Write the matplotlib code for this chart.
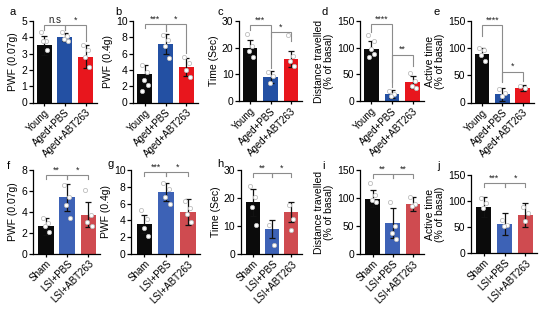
import matplotlib
matplotlib.use("Agg")
import matplotlib.pyplot as plt
import numpy as np

plt.rcParams['font.family'] = ['Liberation Sans', 'DejaVu Sans']

top_groups = ["Young", "Aged+PBS", "Aged+ABT263"]
bottom_groups = ["Sham", "LSI+PBS", "LSI+ABT263"]

# ---- data ----
a_means = [3.5, 4.0, 2.8]
a_sd = [0.6, 0.25, 0.7]
a_points = [[4.3, 3.8, 3.8, 3.2], [4.3, 4.1, 3.9, 3.8], [3.5, 3.2, 2.8, 2.2]]

b_means = [3.5, 7.2, 4.4]
b_sd = [1.1, 1.2, 1.1]
b_points = [[4.6, 3.8, 2.8, 2.1, 1.4], [8.3, 7.7, 6.9, 5.4], [5.6, 4.8, 4.0, 3.1]]

c_means = [19.8, 9.1, 15.8]
c_sd = [2.9, 2.2, 3.1]
c_points = [[25.2, 20.8, 18.9, 16.4], [10.7, 9.5, 6.9], [24.6, 17.0, 15.1, 13.2]]

d_means = [98, 13, 36]
d_sd = [15, 7, 11]
d_points = [[123, 113, 98, 88, 83], [19, 13, 9.5], [52, 38, 28, 25]]

e_means = [89, 15, 27]
e_sd = [11, 12, 6]
e_points = [[100, 96, 88, 76], [24, 18, 12], [31, 27]]

f_means = [2.6, 5.4, 3.7]
f_sd = [0.8, 1.3, 1.2]
f_points = [[3.4, 2.9, 2.6, 2.1], [6.6, 5.4, 4.6, 3.4], [6.1, 3.7, 3.0, 2.6]]

g_means = [3.6, 7.4, 5.0]
g_sd = [1.1, 1.1, 1.5]
g_points = [[5.2, 4.2, 3.1, 2.1], [8.5, 7.7, 6.8, 6.0], [6.3, 5.5, 4.8, 3.8]]

h_means = [18.5, 8.9, 15.0]
h_sd = [4.8, 3.1, 3.5]
h_points = [[24.4, 20.3, 16.8, 10.3], [10.3, 3.2], [17.4, 12.6, 8.7]]

i_means = [99, 55, 89]
i_sd = [15, 27, 13]
i_points = [[126, 105, 96, 93], [93, 50, 37, 26], [102, 90, 85]]

j_means = [89, 56, 73]
j_sd = [19, 21, 23]
j_points = [[105, 96, 86], [64, 54, 51], [89, 77, 61]]

# ---- layout / style ----
W, H = 544, 309
top_colors = ["#0b0b0b", "#2350a3", "#e8161d"]
bot_colors = ["#0b0b0b", "#3d62b6", "#cf4b50"]
jit = [-0.14, 0.11, -0.04, 0.15, -0.1]

def rect(left, top, right, bottom):
    return [left / W, 1 - bottom / H, (right - left) / W, (bottom - top) / H]

panels = [
    dict(L="a", m=a_means, s=a_sd, p=a_points, yl="PWF (0.07g)", ymax=5, step=1,
         g=top_groups, c=top_colors, r=rect(32.7, 21, 97, 102.5), let=(9, 12),
         br=[(0, 1, 4.75, 0.3, 0.3, "n.s"), (1, 2, 4.75, 0.3, 1.0, "*")], xl=-0.55),
    dict(L="b", m=b_means, s=b_sd, p=b_points, yl="PWF (0.4g)", ymax=10, step=2,
         g=top_groups, c=top_colors, r=rect(133, 21, 198, 102.5), let=(115, 12),
         br=[(0, 1, 9.6, 0.5, 0.8, "***"), (1, 2, 9.6, 0.8, 3.5, "*")], xl=-0.55),
    dict(L="c", m=c_means, s=c_sd, p=c_points, yl="Time (Sec)", ymax=30, step=10,
         g=top_groups, c=top_colors, r=rect(239, 21, 302, 101), let=(218, 12),
         br=[(0, 1, 28.5, 2.0, 16, "***"), (1, 2, 26, 2.0, 3.5, "*")], xl=-0.55),
    dict(L="d", m=d_means, s=d_sd, p=d_points, yl="Distance travelled\n(% of basal)", ymax=150, step=50,
         g=top_groups, c=top_colors, r=rect(360, 21, 424, 101), let=(322, 12),
         br=[(0, 1, 145, 15, 110, "****"), (1, 2, 87, 60, 22, "**")], xl=-0.55),
    dict(L="e", m=e_means, s=e_sd, p=e_points, yl="Active time\n(% of basal)", ymax=150, step=50,
         g=top_groups, c=top_colors, r=rect(470.7, 21, 534, 102.5), let=(434, 12),
         br=[(0, 1, 143, 20, 105, "****"), (1, 2, 57, 17, 17, "*")], xl=-0.55),
    dict(L="f", m=f_means, s=f_sd, p=f_points, yl="PWF (0.07g)", ymax=8, step=2,
         g=bottom_groups, c=bot_colors, r=rect(32.7, 170, 100, 253.5), let=(7, 166),
         br=[(0, 1, 7.5, 0.4, 0.4, "**"), (1, 2, 7.5, 0.4, 0.4, "*")], xl=-0.62),
    dict(L="g", m=g_means, s=g_sd, p=g_points, yl="PWF (0.4g)", ymax=10, step=2,
         g=bottom_groups, c=bot_colors, r=rect(131, 170, 200, 254), let=(108, 164),
         br=[(0, 1, 9.8, 0.5, 0.5, "***"), (1, 2, 9.8, 0.5, 0.5, "*")], xl=-0.62),
    dict(L="h", m=h_means, s=h_sd, p=h_points, yl="Time (Sec)", ymax=30, step=10,
         g=bottom_groups, c=bot_colors, r=rect(240.7, 170, 302, 254), let=(217, 164),
         br=[(0, 1, 29, 1.5, 1.5, "**"), (1, 2, 29, 1.5, 1.5, "*")], xl=-0.62),
    dict(L="i", m=i_means, s=i_sd, p=i_points, yl="Distance travelled\n(% of basal)", ymax=150, step=50,
         g=bottom_groups, c=bot_colors, r=rect(360, 170, 424, 254), let=(322, 166),
         br=[(0, 1, 143, 8, 8, "**"), (1, 2, 143, 8, 8, "**")], xl=-0.62),
    dict(L="j", m=j_means, s=j_sd, p=j_points, yl="Active time\n(% of basal)", ymax=150, step=50,
         g=bottom_groups, c=bot_colors, r=rect(470.7, 175, 537, 253), let=(437, 166),
         br=[(0, 1, 134, 8, 8, "***"), (1, 2, 134, 8, 8, "*")], xl=-0.62),
]

fig = plt.figure(figsize=(W / 100, H / 100), dpi=100)
fig.patch.set_facecolor("white")

for P in panels:
    ax = fig.add_axes(P["r"])
    x = np.arange(3)
    ax.bar(x, P["m"], width=0.72, color=P["c"], zorder=2)
    ax.errorbar(x, P["m"], yerr=P["s"], fmt="none", ecolor="#111111",
                elinewidth=0.9, capsize=2.2, capthick=0.9, zorder=3)
    for k, pts in enumerate(P["p"]):
        xs = [k + jit[n % len(jit)] for n in range(len(pts))]
        ax.scatter(xs, pts, s=9, facecolor="white", edgecolor="#bdbdbd",
                   linewidths=0.6, zorder=4)
    for (x1, x2, yb, d1, d2, lab) in P["br"]:
        ax.plot([x1, x1, x2, x2], [yb - d1, yb, yb, yb - d2], color="#8c8c8c",
                lw=0.8, zorder=1, clip_on=False, solid_joinstyle="miter")
        ax.text((x1 + x2) / 2, yb + P["ymax"] * 0.005, lab, ha="center", va="bottom",
                fontsize=6.3 if lab != "n.s" else 7, color="#222222", clip_on=False)
    ax.set_xlim(P["xl"], 2.55)
    ax.set_ylim(0, P["ymax"])
    ax.set_yticks(np.arange(0, P["ymax"] + 0.001, P["step"]))
    ax.set_xticks(x)
    ax.set_xticklabels(P["g"], rotation=45, ha="right", rotation_mode="anchor",
                       fontsize=7)
    ax.tick_params(axis="y", labelsize=7.5, length=3, width=0.9, pad=1)
    ax.tick_params(axis="x", length=2, width=0.9, pad=1.5)
    for sp in ["top", "right"]:
        ax.spines[sp].set_visible(False)
    for sp in ["left", "bottom"]:
        ax.spines[sp].set_linewidth(0.9)
    ax.set_ylabel(P["yl"], fontsize=7.5, labelpad=2, linespacing=1.05)
    fig.text(P["let"][0] / W, 1 - P["let"][1] / H, P["L"], fontsize=8,
             ha="left", va="center")

fig.savefig("out.png", dpi=100, facecolor="white")
